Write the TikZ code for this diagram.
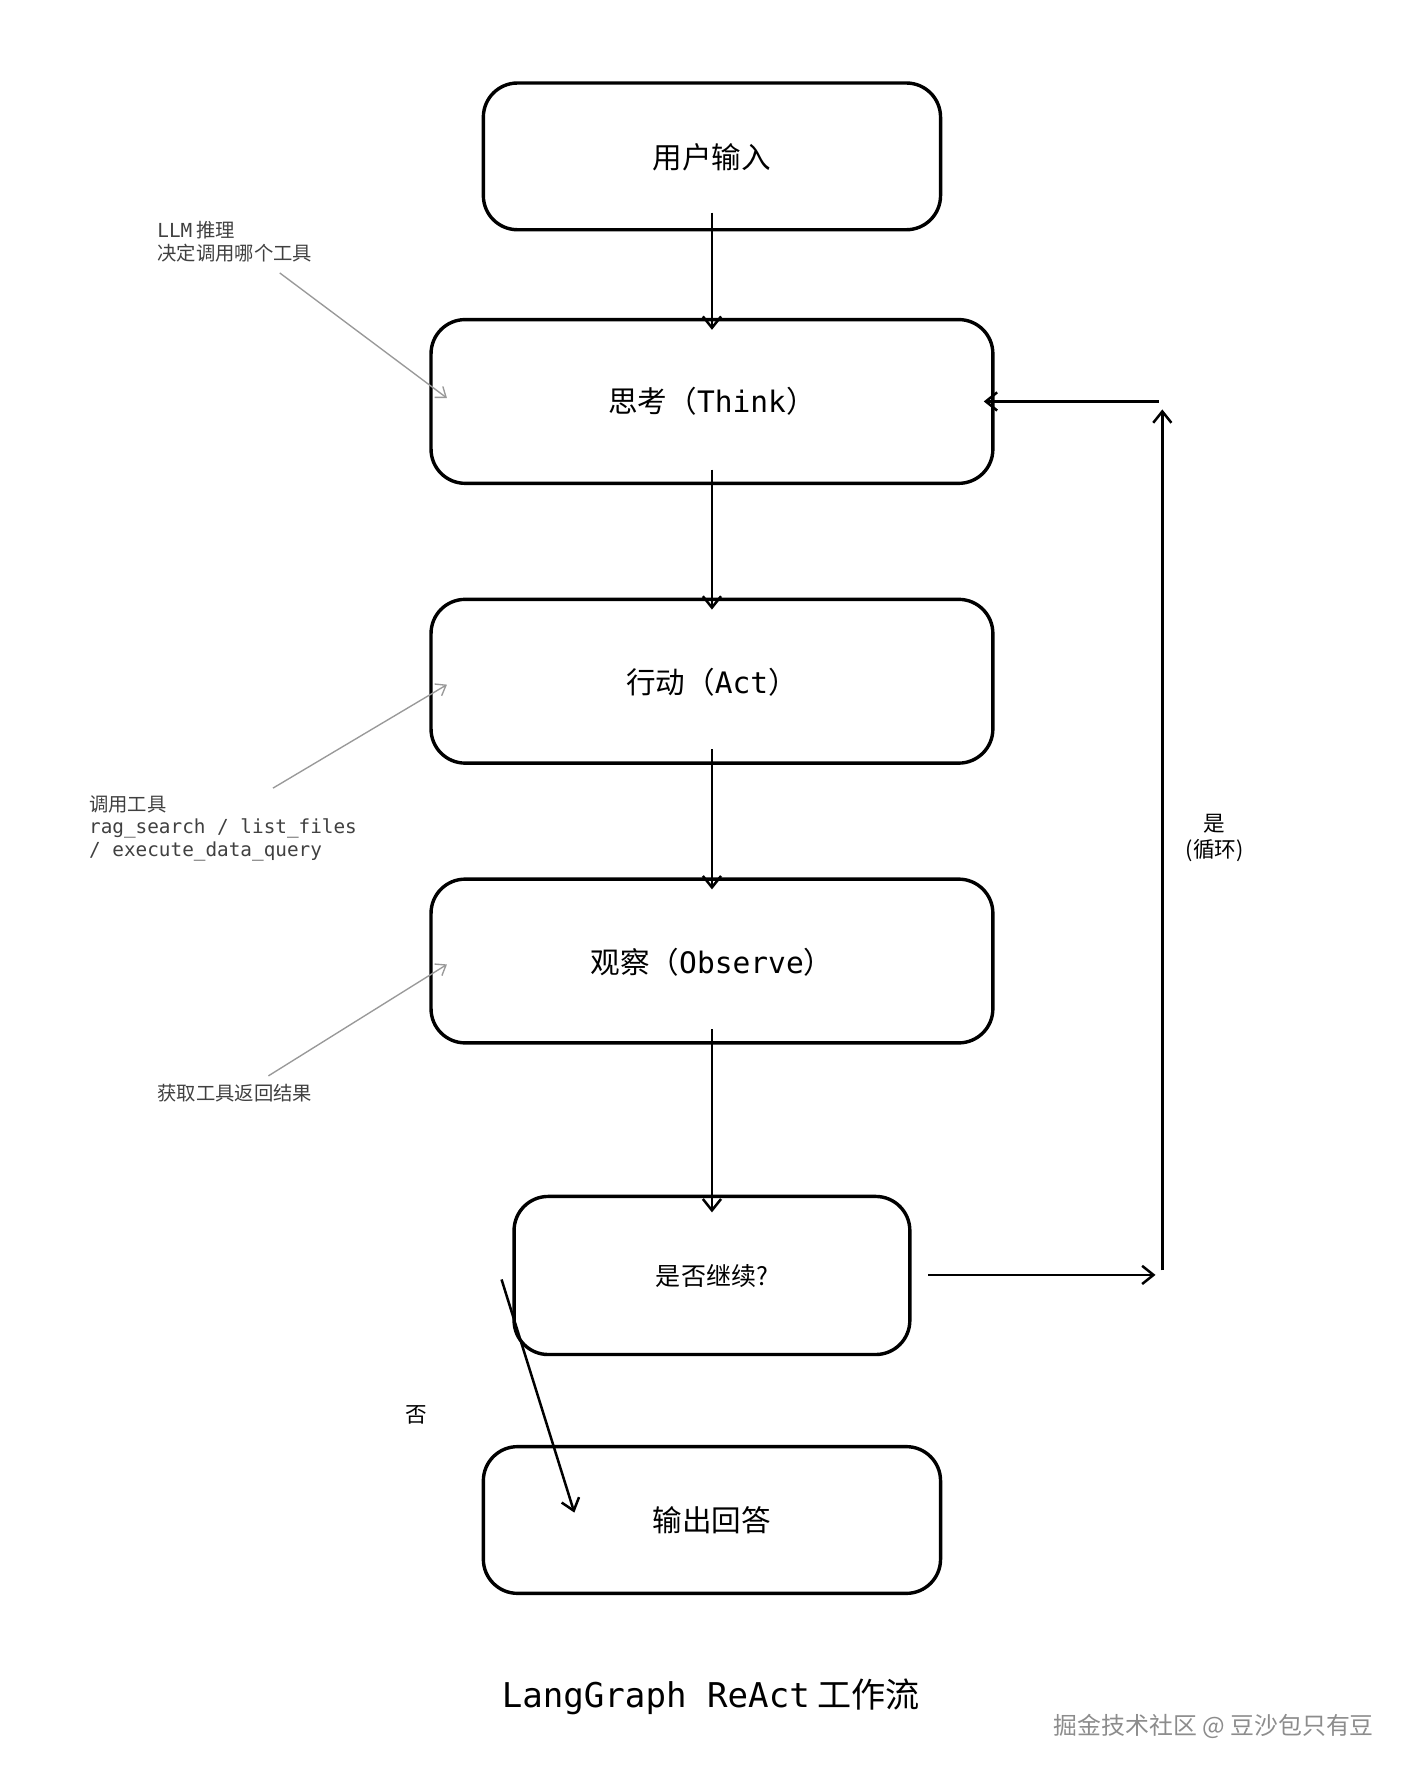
\documentclass[tikz,border=0pt]{standalone}
\usepackage{fontspec}
\setmainfont{Noto Sans CJK SC}
\newfontfamily\mono{DejaVu Sans Mono}
\usetikzlibrary{arrows.meta}
\begin{document}
\begin{tikzpicture}[x=0.5pt,y=-0.5pt,
  box/.style={draw,line width=1.5pt,rounded corners=15pt},
  arr/.style={line width=1.1pt,-{Straight Barb[length=5pt,width=8pt]}},
  ann/.style={gray!80,line width=0.6pt,-{Straight Barb[length=4pt,width=6pt]}},
  lab/.style={font=\fontsize{13}{15}\selectfont},
  note/.style={font=\fontsize{8.5}{10}\selectfont,text=black!75,align=left,anchor=north west,inner sep=0pt}]
\useasboundingbox (0,0) rectangle (1250,1566);
\draw[box] (425,73) rectangle (827,202);
\node[lab] (n1) at (626,138) {用户输入};
\draw[box] (379,281) rectangle (873,425);
\node[lab] (n2) at (626,353) {思考（{\mono Think}）};
\draw[box] (379,527) rectangle (873,671);
\node[lab] (n3) at (626,600) {行动（{\mono Act}）};
\draw[box] (379,773) rectangle (873,917);
\node[lab] (n4) at (626,846) {观察（{\mono Observe}）};
\draw[box] (452,1052) rectangle (800,1191);
\node[font=\fontsize{11}{13}\selectfont] (n5) at (626,1122) {是否继续?};
\draw[box] (425,1272) rectangle (827,1401);
\node[lab] (n6) at (626,1337) {输出回答};
\coordinate (a1) at (626,187); \coordinate (b1) at (626,290);
\coordinate (a2) at (626,413); \coordinate (b2) at (626,536);
\coordinate (a3) at (626,659); \coordinate (b3) at (626,782);
\coordinate (a4) at (626,905); \coordinate (b4) at (626,1066);
\draw[arr] (a1)--(b1); \draw[arr] (a2)--(b2); \draw[arr] (a3)--(b3); \draw[arr] (a4)--(b4);
\coordinate (r1) at (816,1121); \coordinate (r2) at (1016,1121);
\coordinate (u1) at (1022,1117); \coordinate (u2) at (1022,360);
\coordinate (l1) at (1019,353); \coordinate (l2) at (865,353);
\draw[arr] (r1)--(r2); \draw[arr] (u1)--(u2); \draw[arr] (l1)--(l2);
\coordinate (d1) at (441,1125); \coordinate (d2) at (505,1330);
\draw[arr] (d1)--(d2);
\coordinate (g1) at (246,240); \coordinate (h1) at (393,350);
\coordinate (g2) at (240,693); \coordinate (h2) at (393,602);
\coordinate (g3) at (236,946); \coordinate (h3) at (393,848);
\draw[ann] (g1)--(h1); \draw[ann] (g2)--(h2); \draw[ann] (g3)--(h3);
\node[note] (t1) at (138,194) {{\mono LLM} 推理\\决定调用哪个工具};
\node[note] (t2) at (78,699) {调用工具\\{\mono rag\_search / list\_files}\\{\mono / execute\_data\_query}};
\node[note] (t3) at (138,953) {获取工具返回结果};
\node[font=\fontsize{9.5}{11.5}\selectfont,align=center] (t4) at (1068,737) {是\\(循环)};
\node[font=\fontsize{9.5}{11}\selectfont] (t5) at (366,1244) {否};
\node[font=\fontsize{15}{18}\selectfont] (title) at (625,1492) {{\mono LangGraph ReAct} 工作流};
\node[font=\fontsize{10.5}{12}\selectfont,text=black!45,anchor=east] (wm) at (1215,1518) {掘金技术社区 @ 豆沙包只有豆};
\end{tikzpicture}
\end{document}
